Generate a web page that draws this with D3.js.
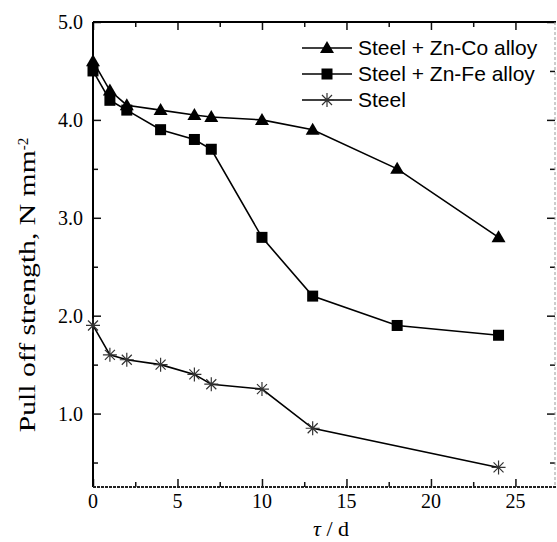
<!DOCTYPE html>
<html>
<head>
<meta charset="utf-8">
<script src="https://cdn.jsdelivr.net/npm/d3@7"></script>
<style>
  body { margin: 0; background: #fff; }
  svg { display: block; }
</style>
</head>
<body>
<div id="chart"></div>
<script>
// days of exposure
var days = [0, 1, 2, 4, 6, 7, 10, 13, 18, 24];
var daysSteel = [0, 1, 2, 4, 6, 7, 10, 13, 24];

var znCo = [4.6, 4.3, 4.15, 4.1, 4.05, 4.03, 4.0, 3.9, 3.5, 2.8];
var znFe = [4.5, 4.2, 4.1, 3.9, 3.8, 3.7, 2.8, 2.2, 1.9, 1.8];
var steel = [1.9, 1.6, 1.55, 1.5, 1.4, 1.3, 1.25, 0.85, 0.45];

var seriesNames = ["Steel + Zn-Co alloy", "Steel + Zn-Fe alloy", "Steel"];
var xTicks = [0, 5, 10, 15, 20, 25];
var yTicks = [1.0, 2.0, 3.0, 4.0, 5.0];

var W = 557, H = 542;
var margin = { top: 22, right: 1, bottom: 55, left: 93 };
var width = W - margin.left - margin.right,
    height = H - margin.top - margin.bottom;

var svg = d3.select("#chart").append("svg")
  .attr("width", W).attr("height", H);
var g = svg.append("g")
  .attr("transform", "translate(" + margin.left + "," + margin.top + ")");

var x = d3.scaleLinear().domain([0, 27.4]).range([0, width]);
var y = d3.scaleLinear().domain([0.25, 5.0]).range([height, 0]);

var serif = "'Liberation Serif', 'DejaVu Serif', serif";
var sans = "'Liberation Sans', Arial, sans-serif";

// minor ticks
var xMinor = d3.range(2.5, 27.4, 5);
var yMinor = d3.range(0.5, 5.0, 1.0);

function noDomain(s) { s.select(".domain").remove(); }

// bottom axis ticks (pointing up)
g.append("g").attr("transform", "translate(0," + height + ")")
  .call(d3.axisTop(x).tickValues(xTicks).tickSize(8).tickFormat("")).call(noDomain);
g.append("g").attr("transform", "translate(0," + height + ")")
  .call(d3.axisTop(x).tickValues(xMinor).tickSize(5).tickFormat("")).call(noDomain);
g.append("g").selectAll("text").data(xTicks).enter().append("text")
  .attr("x", function (d) { return x(d); })
  .attr("y", height + 21)
  .attr("text-anchor", "middle")
  .style("font-family", serif).style("font-size", "20px")
  .text(function (d) { return d; });

// top axis ticks (pointing down)
g.append("g")
  .call(d3.axisBottom(x).tickValues(xTicks).tickSize(8).tickFormat("")).call(noDomain);
g.append("g")
  .call(d3.axisBottom(x).tickValues(xMinor).tickSize(5).tickFormat("")).call(noDomain);

// left axis ticks (pointing right)
g.append("g")
  .call(d3.axisRight(y).tickValues(yTicks).tickSize(8).tickFormat("")).call(noDomain);
g.append("g")
  .call(d3.axisRight(y).tickValues(yMinor).tickSize(5).tickFormat("")).call(noDomain);
g.append("g").selectAll("text").data(yTicks).enter().append("text")
  .attr("x", -10)
  .attr("y", function (d) { return y(d); })
  .attr("dy", "0.35em")
  .attr("text-anchor", "end")
  .style("font-family", serif).style("font-size", "20px")
  .text(function (d) { return d3.format(".1f")(d); });

// right axis ticks (pointing left)
g.append("g").attr("transform", "translate(" + (width - 1) + ",0)")
  .call(d3.axisLeft(y).tickValues(yTicks).tickSize(8).tickFormat("")).call(noDomain);
g.append("g").attr("transform", "translate(" + (width - 1) + ",0)")
  .call(d3.axisLeft(y).tickValues(yMinor).tickSize(5).tickFormat("")).call(noDomain);

g.selectAll(".tick line").attr("stroke", "#111").attr("stroke-width", 1.5);

// frame
g.append("line").attr("x1", 0).attr("x2", width).attr("y1", 0).attr("y2", 0)
  .attr("stroke", "#000").attr("stroke-width", 2);
g.append("line").attr("x1", 0).attr("x2", 0).attr("y1", 0).attr("y2", height)
  .attr("stroke", "#000").attr("stroke-width", 2);
g.append("line").attr("x1", 0).attr("x2", width).attr("y1", height).attr("y2", height)
  .attr("stroke", "#222").attr("stroke-width", 2).attr("stroke-dasharray", "3,1");
g.append("line").attr("x1", width - 1).attr("x2", width - 1).attr("y1", 0).attr("y2", height)
  .attr("stroke", "#999").attr("stroke-width", 1).attr("stroke-dasharray", "3,2");

// series
var line = d3.line()
  .x(function (d) { return x(d[0]); })
  .y(function (d) { return y(d[1]); });

var series = [
  { name: seriesNames[0], pts: d3.zip(days, znCo), sym: "tri" },
  { name: seriesNames[1], pts: d3.zip(days, znFe), sym: "sq" },
  { name: seriesNames[2], pts: d3.zip(daysSteel, steel), sym: "ast" }
];

function drawMarker(sel, sym) {
  if (sym === "tri") {
    sel.append("path").attr("d", "M0,-7 L7,5 L-7,5 Z").attr("fill", "#000");
  } else if (sym === "sq") {
    sel.append("rect").attr("x", -5.5).attr("y", -5.5).attr("width", 11).attr("height", 11).attr("fill", "#000");
  } else {
    sel.append("path")
      .attr("d", "M0,-7 L0,7 M-7,0 L7,0 M-5,-5 L5,5 M-5,5 L5,-5")
      .attr("stroke", "#333").attr("stroke-width", 1.2).attr("fill", "none");
  }
}

series.forEach(function (s) {
  g.append("path").datum(s.pts)
    .attr("d", line)
    .attr("fill", "none").attr("stroke", "#000").attr("stroke-width", 1.6);
  g.append("g").selectAll("g").data(s.pts).enter().append("g")
    .attr("transform", function (d) { return "translate(" + x(d[0]) + "," + y(d[1]) + ")"; })
    .each(function () { drawMarker(d3.select(this), s.sym); });
});

// legend
var legend = svg.append("g").attr("transform", "translate(302,48)");
series.forEach(function (s, i) {
  var row = legend.append("g").attr("transform", "translate(0," + (i * 26) + ")");
  row.append("line").attr("x1", 0).attr("x2", 50).attr("y1", 0).attr("y2", 0)
    .attr("stroke", "#000").attr("stroke-width", 1.6);
  drawMarker(row.append("g").attr("transform", "translate(25,0)"), s.sym);
  row.append("text").attr("x", 56).attr("y", 0).attr("dy", "0.35em")
    .style("font-family", sans).style("font-size", "21px")
    .text(s.name);
});

// axis titles
var xt = svg.append("text")
  .attr("x", 331).attr("y", 536)
  .attr("text-anchor", "middle")
  .style("font-family", serif).style("font-size", "22px");
xt.append("tspan").style("font-style", "italic").text("τ");
xt.append("tspan").text(" / d");

var yt = svg.append("text")
  .attr("transform", "translate(35,285) rotate(-90)")
  .attr("text-anchor", "middle")
  .style("font-family", serif).style("font-size", "24px");
yt.append("tspan").attr("textLength", 282).attr("lengthAdjust", "spacingAndGlyphs")
  .text("Pull off strength, N mm");
yt.append("tspan").attr("dy", "-0.5em").style("font-size", "15px").text("-2");
</script>
</body>
</html>
